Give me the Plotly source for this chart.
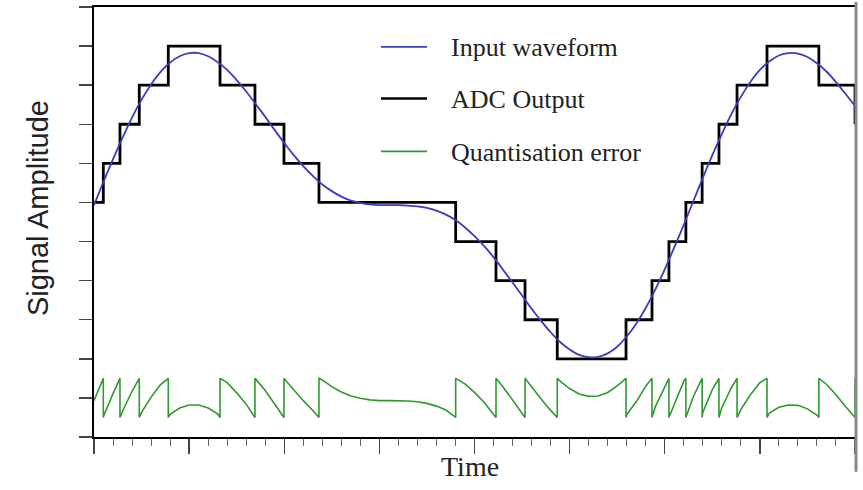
import plotly.graph_objects as go

# ---- data ----
time = [0.0, 0.1, 0.2, 0.3, 0.4, 0.5, 0.6, 0.7, 0.8, 0.9,
        1.0, 1.1, 1.2, 1.3, 1.4, 1.5, 1.6, 1.7, 1.8, 1.9,
        2.0, 2.1, 2.2, 2.3, 2.4, 2.5, 2.6, 2.7, 2.8, 2.9,
        3.0, 3.1, 3.2, 3.3, 3.4, 3.5, 3.6, 3.7, 3.8, 3.9,
        4.0, 4.1, 4.2, 4.3, 4.4, 4.5, 4.6, 4.7, 4.8, 4.9,
        5.0, 5.1, 5.2, 5.3, 5.4, 5.5, 5.6, 5.7, 5.8, 5.9,
        6.0, 6.1, 6.2, 6.3, 6.4, 6.5, 6.6, 6.7, 6.8, 6.9,
        7.0, 7.1, 7.2, 7.3, 7.4, 7.5, 7.6, 7.7, 7.8, 7.9, 8.0]

input_waveform = [5.93, 6.53, 7.11, 7.66, 8.17, 8.63, 9.02, 9.34, 9.58, 9.74,
                  9.82, 9.82, 9.74, 9.59, 9.39, 9.13, 8.84, 8.52, 8.19, 7.85,
                  7.52, 7.21, 6.93, 6.68, 6.46, 6.29, 6.15, 6.05, 5.99, 5.95,
                  5.93, 5.93, 5.93, 5.92, 5.90, 5.86, 5.79, 5.69, 5.55, 5.36,
                  5.14, 4.89, 4.60, 4.28, 3.95, 3.62, 3.28, 2.97, 2.68, 2.43,
                  2.24, 2.10, 2.04, 2.05, 2.14, 2.31, 2.57, 2.90, 3.30, 3.77,
                  4.29, 4.85, 5.43, 6.03, 6.63, 7.21, 7.75, 8.26, 8.70, 9.08,
                  9.39, 9.61, 9.76, 9.82, 9.81, 9.72, 9.56, 9.35, 9.08, 8.78, 8.47]

adc_step_times = [0.0, 0.098, 0.273, 0.476, 0.781, 1.325, 1.692, 1.997, 2.365,
                  3.802, 4.226, 4.531, 4.870, 5.593, 5.866, 6.044, 6.222, 6.393,
                  6.570, 6.760, 7.075, 7.620, 8.0]
adc_levels = [6, 7, 8, 9, 10, 9, 8, 7, 6, 5, 4, 3, 2, 3, 4, 5, 6, 7, 8, 9, 10, 9, 8]

error_time = [0.0, 0.098, 0.098, 0.1, 0.2, 0.273, 0.273, 0.3, 0.4, 0.476, 0.476,
              0.5, 0.6, 0.7, 0.781, 0.781, 0.8, 0.9, 1.0, 1.1, 1.2, 1.3, 1.325, 1.325,
              1.4, 1.5, 1.6, 1.692, 1.692, 1.7, 1.8, 1.9, 1.997, 1.997,
              2.0, 2.1, 2.2, 2.3, 2.365, 2.365,
              2.4, 2.5, 2.6, 2.7, 2.8, 2.9, 3.0, 3.1, 3.2, 3.3, 3.4, 3.5, 3.6, 3.7, 3.802, 3.802,
              3.9, 4.0, 4.1, 4.2, 4.226, 4.226, 4.3, 4.4, 4.5, 4.531, 4.531,
              4.6, 4.7, 4.8, 4.870, 4.870,
              4.9, 5.0, 5.1, 5.2, 5.3, 5.4, 5.5, 5.593, 5.593,
              5.6, 5.7, 5.8, 5.866, 5.866, 5.9, 6.0, 6.044, 6.044,
              6.1, 6.2, 6.222, 6.222, 6.3, 6.393, 6.393, 6.4, 6.5, 6.570, 6.570,
              6.6, 6.7, 6.760, 6.760, 6.8, 6.9, 7.0, 7.075, 7.075,
              7.1, 7.2, 7.3, 7.4, 7.5, 7.6, 7.620, 7.620, 7.7, 7.8, 7.9, 8.0, 8.0]
quantisation_error = [-0.07, 0.5, -0.5, -0.47, 0.11, 0.5, -0.5, -0.34, 0.17, 0.5, -0.5,
                      -0.37, 0.02, 0.34, 0.5, -0.5, -0.42, -0.26, -0.18, -0.18, -0.26, -0.41, -0.5, 0.5,
                      0.39, 0.13, -0.16, -0.5, 0.5, 0.48, 0.19, -0.15, -0.5, 0.5,
                      0.49, 0.21, -0.07, -0.32, -0.5, 0.5,
                      0.46, 0.29, 0.15, 0.05, -0.01, -0.05, -0.07, -0.07, -0.07, -0.08, -0.10, -0.14, -0.21, -0.31, -0.5, 0.5,
                      0.36, 0.14, -0.11, -0.40, -0.5, 0.5, 0.28, -0.05, -0.38, -0.5, 0.5,
                      0.28, -0.03, -0.32, -0.5, 0.5,
                      0.43, 0.24, 0.10, 0.04, 0.05, 0.14, 0.31, 0.5, -0.5,
                      -0.43, -0.10, 0.30, 0.5, -0.5, -0.23, 0.29, 0.5, -0.5,
                      -0.15, 0.43, 0.5, -0.5, 0.03, 0.5, -0.5, -0.37, 0.21, 0.5, -0.5,
                      -0.25, 0.26, 0.5, -0.5, -0.30, 0.08, 0.39, 0.5, -0.5,
                      -0.39, -0.24, -0.18, -0.19, -0.28, -0.44, -0.5, 0.5, 0.35, 0.08, -0.22, -0.5, 0.5]

series_names = ["Input waveform", "ADC Output", "Quantisation error"]
series_colors = ["#3c3cc0", "#000000", "#2e9a2e"]
ERROR_BASELINE = 1  # error trace is drawn around this level

# ---- figure ----
W, H = 863, 490
L, R, T, B = 94, 8, 5, 53
pw, ph = W - L - R, H - T - B

def px(x):
    return (x - L) / pw

def py(y):
    return (H - B - y) / ph

fig = go.Figure()
fig.add_trace(go.Scatter(x=adc_step_times, y=adc_levels, mode="lines",
                         line=dict(color=series_colors[1], width=2.8, shape="hv"),
                         name=series_names[1]))
fig.add_trace(go.Scatter(x=time, y=input_waveform, mode="lines",
                         line=dict(color=series_colors[0], width=1.8, shape="spline", smoothing=0.6),
                         name=series_names[0]))
fig.add_trace(go.Scatter(x=error_time, y=[ERROR_BASELINE + e for e in quantisation_error],
                         mode="lines", line=dict(color=series_colors[2], width=1.6),
                         name=series_names[2]))

fig.update_layout(
    width=W, height=H, margin=dict(l=L, r=R, t=T, b=B),
    paper_bgcolor="white", plot_bgcolor="white", showlegend=False,
    xaxis=dict(range=[0, 8], dtick=1, tick0=0, ticks="outside", ticklen=15, tickwidth=1.4,
               tickcolor="#444", showticklabels=False, showgrid=False, zeroline=False,
               showline=True, linecolor="black", linewidth=2, mirror=True,
               minor=dict(dtick=0.2, ticks="outside", ticklen=7, tickwidth=1, tickcolor="#666",
                          showgrid=False)),
    yaxis=dict(range=[0, 11], dtick=1, tick0=0, ticks="outside", ticklen=13, tickwidth=1.4,
               tickcolor="#444", showticklabels=False, showgrid=False, zeroline=False,
               showline=True, linecolor="black", linewidth=2),
)

# right border (grey)
fig.add_shape(type="line", xref="paper", yref="paper", x0=px(856), x1=px(856),
              y0=py(0), y1=py(472), line=dict(color="#8a8a8a", width=3))

# legend drawn by hand to match spacing
legend_rows_y = [45, 97, 150]
for name, color, yy in zip(series_names, series_colors, legend_rows_y):
    fig.add_shape(type="line", xref="paper", yref="paper", x0=px(381), x1=px(427),
                  y0=py(yy), y1=py(yy),
                  line=dict(color=color, width=2.4 if color == "#000000" else 1.8))
    fig.add_annotation(text=name, xref="paper", yref="paper", x=px(449), y=py(yy + 1),
                       xanchor="left", yanchor="middle", showarrow=False,
                       font=dict(family="Liberation Serif, Times New Roman, serif",
                                 size=26, color="#222"))

fig.add_annotation(text="Signal Amplitude", xref="paper", yref="paper",
                   x=px(38), y=py(207), textangle=-90, showarrow=False,
                   xanchor="center", yanchor="middle",
                   font=dict(family="Liberation Sans, Arial, sans-serif", size=29, color="#222"))
fig.add_annotation(text="Time", xref="paper", yref="paper",
                   x=px(470), y=py(467), showarrow=False, xanchor="center", yanchor="middle",
                   font=dict(family="Liberation Serif, Times New Roman, serif", size=28, color="#222"))

fig.write_html("out.html",
               config={"displayModeBar": False, "staticPlot": True},
               post_script="document.body.style.margin='0';document.body.style.overflow='hidden';")
